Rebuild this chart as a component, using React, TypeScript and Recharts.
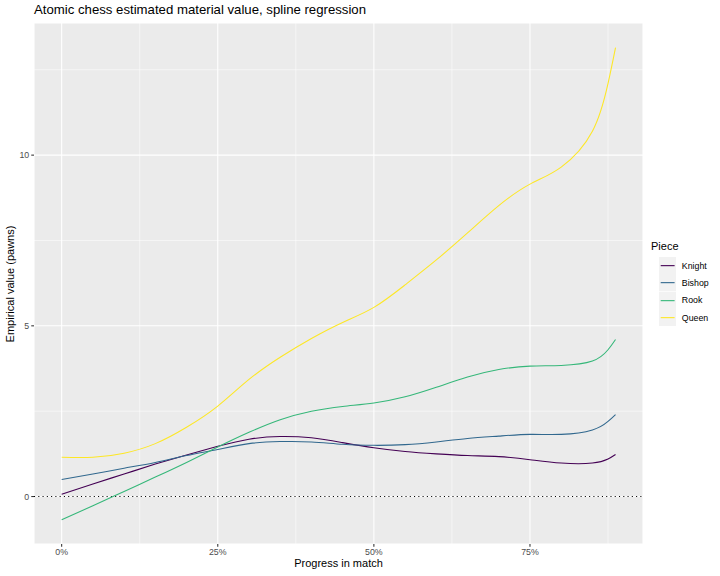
import React from "react"
import {
  LineChart,
  Line,
  XAxis,
  YAxis,
  CartesianGrid,
  ReferenceLine,
} from "recharts"

// progress through the match (fraction 0..1)
const progress = [0, 0.05, 0.1, 0.15, 0.2, 0.25, 0.3, 0.35, 0.4, 0.45, 0.5, 0.55, 0.6, 0.65, 0.7, 0.75, 0.8, 0.85, 0.875, 0.887]

const knight = [0.07, 0.37, 0.66, 0.95, 1.22, 1.47, 1.68, 1.76, 1.72, 1.58, 1.43, 1.32, 1.25, 1.2, 1.17, 1.08, 0.98, 0.98, 1.1, 1.23]
const bishop = [0.5, 0.66, 0.83, 1.0, 1.2, 1.38, 1.55, 1.61, 1.6, 1.53, 1.5, 1.52, 1.6, 1.7, 1.77, 1.82, 1.82, 1.95, 2.2, 2.4]
const rook = [-0.68, -0.27, 0.15, 0.57, 1.0, 1.45, 1.88, 2.25, 2.5, 2.64, 2.74, 2.92, 3.2, 3.5, 3.72, 3.82, 3.84, 3.97, 4.3, 4.6]
const queen = [1.15, 1.15, 1.27, 1.55, 2.03, 2.65, 3.43, 4.08, 4.63, 5.1, 5.54, 6.2, 6.93, 7.72, 8.52, 9.15, 9.65, 10.7, 12.1, 13.15]

const pieces = ["Knight", "Bishop", "Rook", "Queen"]
const colors = ["#440154", "#31688E", "#35B779", "#FDE725"]
const series = [knight, bishop, rook, queen]

const xTicks = [0, 0.25, 0.5, 0.75]
const xMinor = [0.125, 0.375, 0.625, 0.875]
const yTicks = [0, 5, 10]
const yMinor = [2.5, 7.5, 12.5]

const rows = progress.map((p, i) => {
  const row: Record<string, number> = { progress: p }
  pieces.forEach((name, k) => {
    row[name] = series[k][i]
  })
  return row
})

const font = "'Liberation Sans', Arial, sans-serif"

function PieceLegend() {
  return (
    <div style={{ position: "absolute", left: 651, top: 240, fontFamily: font, color: "#000" }}>
      <div style={{ fontSize: 11, lineHeight: "13px", marginBottom: 4 }}>Piece</div>
      {pieces.map((name, k) => (
        <div key={name} style={{ display: "flex", alignItems: "center", height: 17.3, marginLeft: 8 }}>
          <svg width={17.3} height={17.3} style={{ display: "block" }}>
            <rect x={0} y={0} width={17.3} height={17.3} fill="#F2F2F2" />
            <line x1={1.7} x2={15.6} y1={8.65} y2={8.65} stroke={colors[k]} strokeWidth={1.1} />
          </svg>
          <span style={{ fontSize: 8.8, marginLeft: 5.5 }}>{name}</span>
        </div>
      ))}
    </div>
  )
}

export default function App() {
  return (
    <div
      style={{
        position: "absolute",
        left: 0,
        top: 0,
        width: 720,
        height: 576,
        background: "#fff",
        fontFamily: font,
      }}
    >
      <LineChart width={720} height={576} data={rows} margin={{ top: 23, right: 77, bottom: 0, left: 0 }}>
        <CartesianGrid fill="#EBEBEB" stroke="#fff" strokeWidth={1.07} />
        {xMinor.map((v) => (
          <ReferenceLine key={"xm" + v} x={v} stroke="#fff" strokeWidth={0.53} />
        ))}
        {yMinor.map((v) => (
          <ReferenceLine key={"ym" + v} y={v} stroke="#fff" strokeWidth={0.53} />
        ))}
        <XAxis
          dataKey="progress"
          type="number"
          domain={[-0.0443, 0.931]}
          ticks={xTicks}
          allowDataOverflow
          tickFormatter={(v) => `${Math.round(v * 100)}%`}
          axisLine={false}
          tickLine={{ stroke: "#333333", strokeWidth: 1.07 }}
          tickSize={2.75}
          tickMargin={2}
          tick={{ fill: "#4D4D4D", fontSize: 8.8, fontFamily: font }}
          height={32}
        />
        <YAxis
          type="number"
          domain={[-1.39, 13.87]}
          ticks={yTicks}
          allowDataOverflow
          axisLine={false}
          tickLine={{ stroke: "#333333", strokeWidth: 1.07 }}
          tickSize={2.75}
          tickMargin={2}
          tick={{ fill: "#4D4D4D", fontSize: 8.8, fontFamily: font }}
          width={34}
        />
        <ReferenceLine y={0} stroke="#000" strokeWidth={1.07} strokeDasharray="1.07 3.2" />
        {pieces.map((name, k) => (
          <Line
            key={name}
            dataKey={name}
            name={name}
            type="natural"
            stroke={colors[k]}
            strokeWidth={1.07}
            dot={false}
            isAnimationActive={false}
          />
        ))}
      </LineChart>
      <PieceLegend />
      <div
        style={{
          position: "absolute",
          left: 34,
          top: 2,
          fontSize: 13.2,
          color: "#000",
          whiteSpace: "nowrap",
        }}
      >
        Atomic chess estimated material value, spline regression
      </div>
      <div
        style={{
          position: "absolute",
          left: 338.5,
          top: 557,
          transform: "translateX(-50%)",
          fontSize: 11,
          color: "#000",
          whiteSpace: "nowrap",
        }}
      >
        Progress in match
      </div>
      <div
        style={{
          position: "absolute",
          left: 10,
          top: 283.5,
          transform: "translate(-50%, -50%) rotate(-90deg)",
          fontSize: 11,
          color: "#000",
          whiteSpace: "nowrap",
        }}
      >
        Empirical value (pawns)
      </div>
    </div>
  )
}
